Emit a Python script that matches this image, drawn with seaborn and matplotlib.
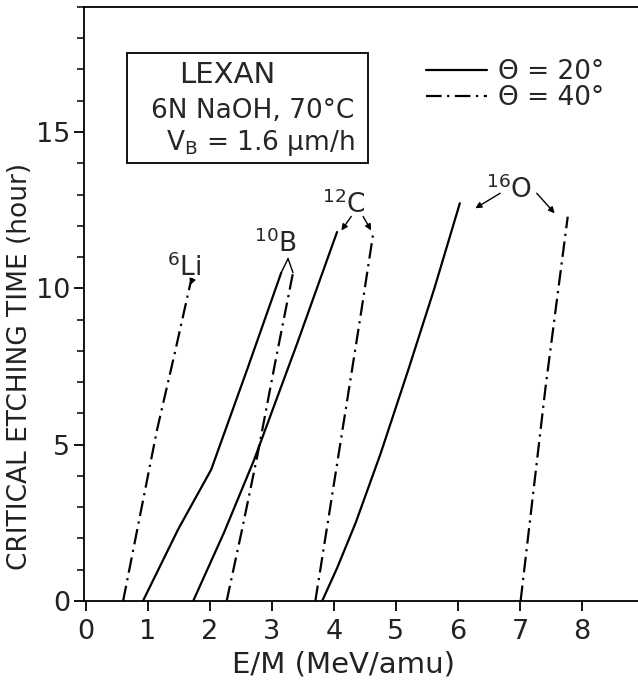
import pandas as pd
import matplotlib.pyplot as plt
import matplotlib.patches as mpatches
from matplotlib.lines import Line2D
from matplotlib.ticker import MultipleLocator
import seaborn as sns

# curves: E/M (MeV/amu) vs critical etching time (hour)
li_40_x = [0.60, 0.88, 1.15, 1.43, 1.69]
li_40_y = [0.0, 2.8, 5.5, 7.9, 10.2]

b_20_x = [0.92, 1.49, 2.02, 2.60, 3.15]
b_20_y = [0.0, 2.3, 4.2, 7.4, 10.5]
b_40_x = [2.27, 2.52, 2.76, 3.05, 3.34]
b_40_y = [0.0, 2.3, 4.6, 7.6, 10.5]

c_20_x = [1.73, 2.23, 2.71, 3.40, 4.05]
c_20_y = [0.0, 2.2, 4.5, 8.2, 11.8]
c_40_x = [3.70, 3.94, 4.18, 4.42, 4.64]
c_40_y = [0.0, 3.0, 6.0, 9.0, 11.84]

o_20_x = [3.81, 4.05, 4.35, 4.75, 5.20, 5.62, 6.03]
o_20_y = [0.0, 1.05, 2.5, 4.7, 7.4, 10.0, 12.72]
o_40_x = [7.01, 7.21, 7.41, 7.60, 7.77]
o_40_y = [0.0, 3.4, 6.8, 9.7, 12.29]

angle_labels = ["Θ = 20°", "Θ = 40°"]

# 1. BUILD LONG TABLE
curves = [
    ("Li", angle_labels[1], li_40_x, li_40_y),
    ("B", angle_labels[0], b_20_x, b_20_y),
    ("B", angle_labels[1], b_40_x, b_40_y),
    ("C", angle_labels[0], c_20_x, c_20_y),
    ("C", angle_labels[1], c_40_x, c_40_y),
    ("O", angle_labels[0], o_20_x, o_20_y),
    ("O", angle_labels[1], o_40_x, o_40_y),
]
rows = []
for ion, angle, xs, ys in curves:
    for x, y in zip(xs, ys):
        rows.append({"ion": ion + angle, "angle": angle, "E": x, "T": y})
df = pd.DataFrame(rows)

# 2. PLOT
sns.set_style("white")
plt.rcParams["font.family"] = ["DejaVu Sans"]
plt.rcParams["mathtext.fontset"] = "dejavusans"

fig = plt.figure(figsize=(6.38, 6.9), dpi=100)
ax = fig.add_axes([0.1317, 0.129, 0.868, 0.861])

dashdot = (7, 2.5, 1, 2.5)
sns.lineplot(data=df, x="E", y="T", style="angle", units="ion", estimator=None,
             sort=False, color="black", linewidth=1.6,
             dashes={angle_labels[0]: "", angle_labels[1]: dashdot},
             legend=False, ax=ax)

ax.set_xlim(-0.03, 8.9)
ax.set_ylim(0, 19)
ax.set_xticks(range(0, 9))
ax.set_yticks([0, 5, 10, 15])
ax.yaxis.set_minor_locator(MultipleLocator(1))
ax.tick_params(axis="both", which="major", direction="out", length=7, width=1.3,
               labelsize=19.5, color="black", labelcolor="#222222")
ax.tick_params(axis="x", which="major", pad=6)
ax.tick_params(axis="y", which="major", pad=3)
ax.tick_params(axis="y", which="minor", direction="out", length=5, width=1.3, left=True)
ax.tick_params(axis="x", bottom=True)
ax.tick_params(axis="y", left=True)

for side in ["left", "bottom", "top"]:
    ax.spines[side].set_linewidth(1.3)
    ax.spines[side].set_color("black")
ax.spines["right"].set_visible(False)

ax.set_xlabel("E/M (MeV/amu)", fontsize=21, color="#222222")
ax.set_ylabel("CRITICAL ETCHING TIME (hour)", fontsize=19, color="#222222")
ax.xaxis.set_label_coords(0.469, -0.083)
ax.yaxis.set_label_coords(-0.092, 0.394)

# condition box
ax.add_patch(mpatches.Rectangle((0.0776, 0.7374), 0.435, 0.1852, transform=ax.transAxes,
                                fill=False, edgecolor="black", linewidth=1.3))
ax.text(0.259, 0.886, "LEXAN", transform=ax.transAxes, ha="center", va="center", fontsize=21)
ax.text(0.305, 0.825, "6N NaOH, 70°C", transform=ax.transAxes, ha="center", va="center", fontsize=19)
ax.text(0.318, 0.771, r"V$_\mathregular{B}$ = 1.6 µm/h", transform=ax.transAxes,
        ha="center", va="center", fontsize=19)

# legend
handles = [Line2D([], [], color="black", linewidth=1.6),
           Line2D([], [], color="black", linewidth=1.6, dashes=dashdot)]
ax.legend(handles, angle_labels, loc="upper left", bbox_to_anchor=(0.618, 0.912),
          frameon=False, fontsize=19, handlelength=2.3, handletextpad=0.4,
          labelspacing=0.0, borderpad=0, borderaxespad=0)

# ion labels with arrows
arrow = dict(arrowstyle="-|>", color="black", linewidth=1.0, mutation_scale=9, shrinkA=0, shrinkB=0)
line = dict(arrowstyle="-", color="black", linewidth=1.0, shrinkA=0, shrinkB=0)

ax.text(1.58, 10.4, r"$^{6}$Li", ha="center", va="baseline", fontsize=19)
ax.annotate("", xy=(li_40_x[-1] - 0.01, li_40_y[-1] - 0.1), xytext=(1.72, 10.3), arrowprops=arrow)

ax.text(3.05, 11.15, r"$^{10}$B", ha="center", va="baseline", fontsize=19)
ax.annotate("", xy=(3.26, 10.95), xytext=(b_20_x[-1], b_20_y[-1]), arrowprops=line)
ax.annotate("", xy=(3.26, 10.95), xytext=(b_40_x[-1], b_40_y[-1]), arrowprops=line)

ax.text(4.16, 12.4, r"$^{12}$C", ha="center", va="baseline", fontsize=19)
ax.annotate("", xy=(4.12, 11.85), xytext=(4.28, 12.3), arrowprops=arrow)
ax.annotate("", xy=(4.60, 11.85), xytext=(4.47, 12.3), arrowprops=arrow)

ax.text(6.82, 12.9, r"$^{16}$O", ha="center", va="baseline", fontsize=19)
ax.annotate("", xy=(6.28, 12.56), xytext=(6.68, 13.04), arrowprops=arrow)
ax.annotate("", xy=(7.56, 12.4), xytext=(7.27, 13.04), arrowprops=arrow)

fig.savefig("out.png", dpi=100)
